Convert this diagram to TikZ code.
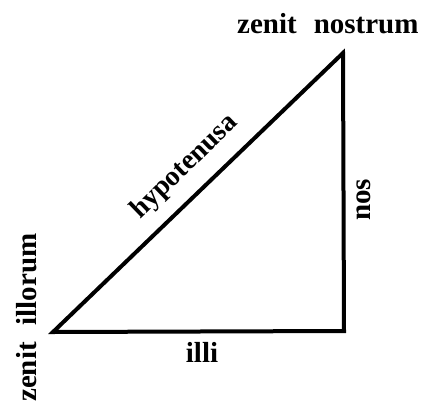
\documentclass[tikz,border=0pt]{standalone}
\usepackage{fontspec}
\setmainfont{Liberation Serif}
\begin{document}
\begin{tikzpicture}[x=1pt,y=1pt,
  lbl/.style={font=\fontsize{29}{31}\selectfont\bfseries, inner sep=0pt},
  edge/.style={line width=4pt, line join=miter, line cap=butt}]
\useasboundingbox (0,0) rectangle (428,-407);
\coordinate (A) at (53,-332);
\coordinate (B) at (344,-331);
\coordinate (C) at (343,-53);
\draw[edge] (A) -- (B) -- (C) -- cycle;
\node[lbl, anchor=base west] (zn) at (237,-33) {zenit\hspace{17pt}nostrum};
\node[lbl, rotate=90, anchor=base west] (zi) at (36,-402) {zenit\hspace{17pt}illorum};
\node[lbl, rotate=90, anchor=base west] (nos) at (370,-221) {nos};
\node[lbl, anchor=base] (illi) at (202,-362) {illi};
\node[lbl, font=\fontsize{28}{30}\selectfont\bfseries, rotate=44, anchor=center] (hyp) at (185,-167) {hypotenusa};
\end{tikzpicture}
\end{document}
